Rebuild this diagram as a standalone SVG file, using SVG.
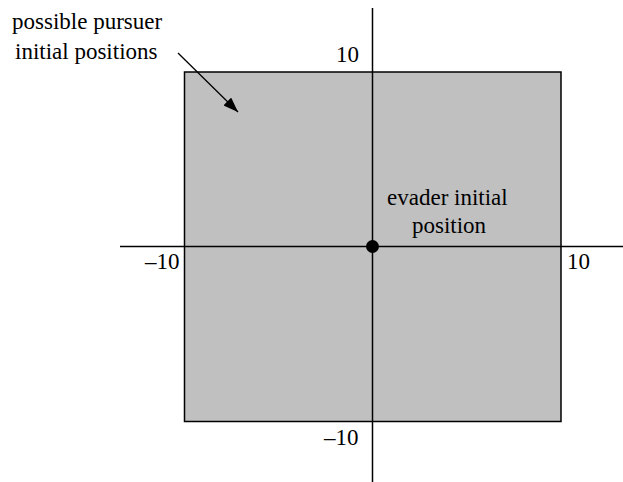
<svg xmlns="http://www.w3.org/2000/svg" width="623" height="482" viewBox="0 0 623 482">
<style>
text{font-family:"Liberation Serif","Times New Roman",serif;font-size:23px;fill:#000}
.ax{stroke:#000;stroke-width:1.5;fill:none}
</style>
<defs>
<marker id="ah" markerWidth="15" markerHeight="11" refX="15" refY="5.5" orient="auto" markerUnits="userSpaceOnUse" viewBox="0 0 15 11"><path d="M0,0 L15,5.5 L0,11 Z" fill="#000"/></marker>
</defs>
<g id="region"><rect x="184.5" y="72" width="376.5" height="349.5" fill="#c0c0c0" stroke="#000" stroke-width="1.5"/></g>
<g id="connectors">
<line class="ax" x1="120" y1="246.5" x2="623" y2="246.5"/>
<line class="ax" x1="372.5" y1="8" x2="372.5" y2="482"/>
<line x1="178" y1="53" x2="238" y2="112" stroke="#000" stroke-width="1.3" marker-end="url(#ah)"/>
</g>
<g id="evader"><circle cx="372.5" cy="246.5" r="6.5" fill="#000"/></g>
<g id="labels">
<text x="12" y="29">possible pursuer</text>
<text x="15" y="59">initial positions</text>
<text x="336" y="62">10</text>
<text x="387" y="205">evader initial</text>
<text x="412" y="233">position</text>
<text x="145" y="269">–10</text>
<text x="567" y="269">10</text>
<text x="324" y="445">–10</text>
</g>
</svg>
